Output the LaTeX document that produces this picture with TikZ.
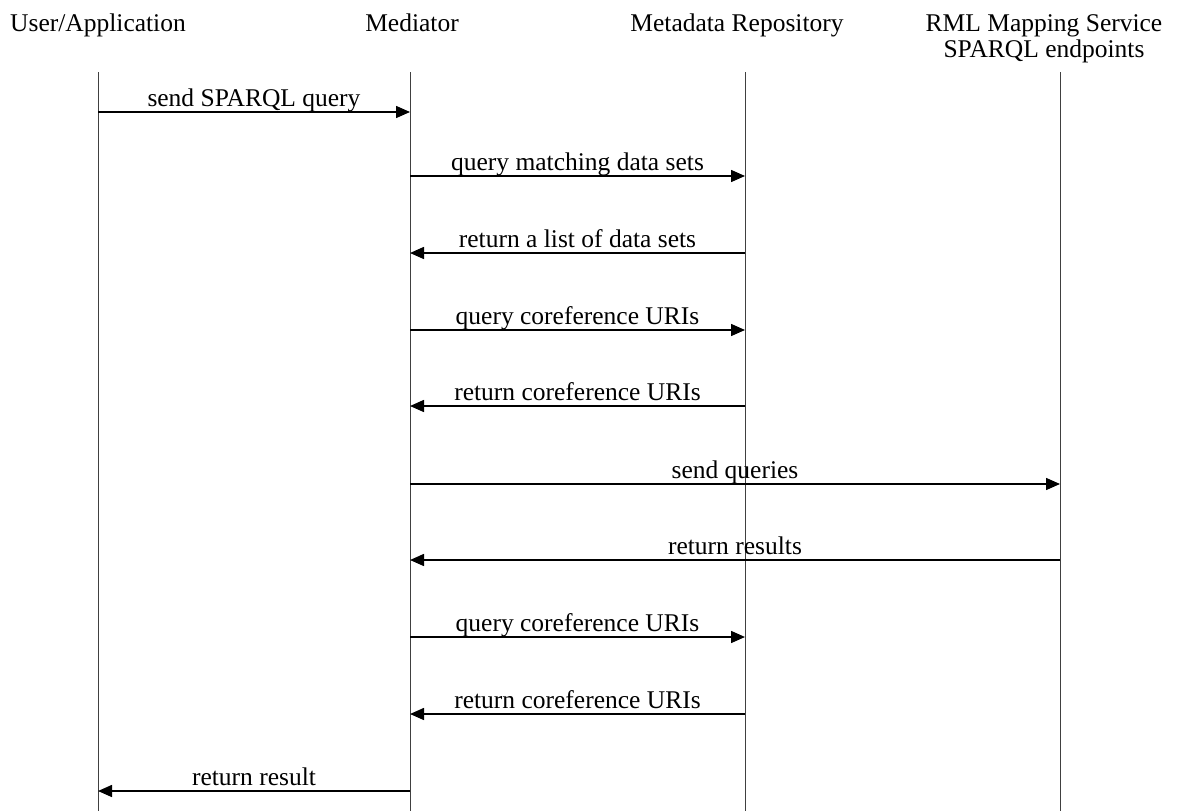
\documentclass[tikz,border=0pt]{standalone}
\usepackage{fontspec}
\setmainfont{Liberation Serif}
\usetikzlibrary{arrows.meta}
\begin{document}
\begin{tikzpicture}[x=1pt,y=-1pt,
  every node/.style={font=\fontsize{25.5}{26}\selectfont, inner sep=0pt},
  head/.style={anchor=base, align=center},
  lifeline/.style={draw=black!75, line width=0.9pt},
  msg/.style={draw=black, line width=1.5pt, -{Triangle[length=14pt,width=12pt]}},
  lbl/.style={anchor=base}]
  \useasboundingbox (0,0) rectangle (1181,811);

  % participants (base anchor of a two-line node is its last line)
  \node[head] (hUA)  at (98,31)   {User/Application};
  \node[head] (hMed) at (412,31)  {Mediator};
  \node[head] (hMR)  at (737,31)  {Metadata Repository};
  \node[head] (hRML) at (1044,57) {RML Mapping Service\\SPARQL endpoints};

  % lifelines
  \coordinate (ua)  at (98,72);   \coordinate (uaE)  at (98,811);
  \coordinate (med) at (410,72);  \coordinate (medE) at (410,811);
  \coordinate (mr)  at (745,72);  \coordinate (mrE)  at (745,811);
  \coordinate (rml) at (1060,72); \coordinate (rmlE) at (1060,811);
  \draw[lifeline] (ua)  -- (uaE);
  \draw[lifeline] (med) -- (medE);
  \draw[lifeline] (mr)  -- (mrE);
  \draw[lifeline] (rml) -- (rmlE);

  % messages: y / from / to / label
  \foreach \y/\a/\b/\t in {
      112/ua/med/{send SPARQL query},
      176/med/mr/{query matching data sets},
      253/mr/med/{return a list of data sets},
      330/med/mr/{query coreference URIs},
      406/mr/med/{return coreference URIs},
      484/med/rml/{send queries},
      560/rml/med/{return results},
      637/med/mr/{query coreference URIs},
      714/mr/med/{return coreference URIs},
      791/med/ua/{return result}}
  {
    \draw[msg] (\a |- 0,\y) -- (\b |- 0,\y)
      node[lbl, pos=0.5, yshift=6pt] {\t};
  }
\end{tikzpicture}
\end{document}
